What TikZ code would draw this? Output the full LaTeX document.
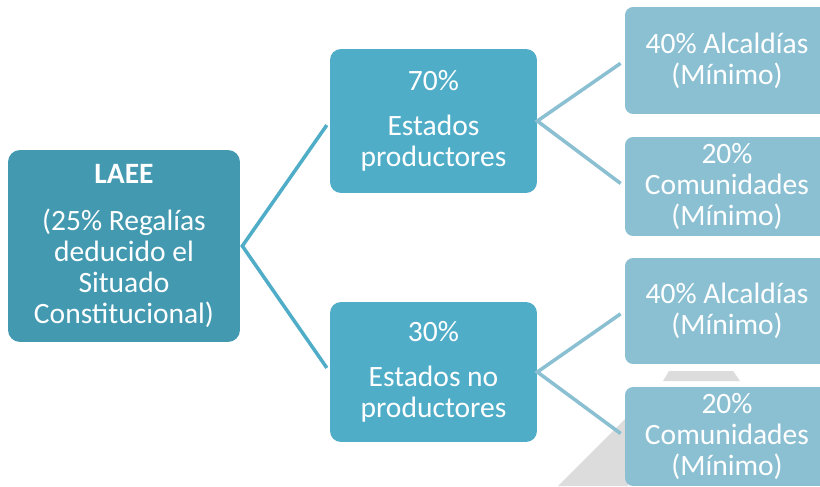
\documentclass[tikz,border=0pt]{standalone}
\usepackage{fontspec}
\setmainfont{Carlito}
\usetikzlibrary{positioning}

\definecolor{laeecol}{HTML}{4399B0}
\definecolor{estcol}{HTML}{50ADC8}
\definecolor{repcol}{HTML}{8BC0D3}
\definecolor{shadecol}{HTML}{DCDCDC}

\begin{document}
\begin{tikzpicture}[x=0.02cm,y=-0.02cm,
    boxtxt/.style={text=white,align=center,inner sep=0pt,
      font=\fontsize{16.8}{17.8}\selectfont},
    laeebox/.style={boxtxt,fill=laeecol,rounded corners=0.24cm,
      minimum width=4.64cm,minimum height=3.84cm},
    estbox/.style={boxtxt,fill=estcol,rounded corners=0.22cm,
      minimum width=4.14cm},
    repbox/.style={boxtxt,fill=repcol,rounded corners=0.16cm,
      minimum width=4.08cm},
    leftline/.style={draw=estcol,line width=2pt,shorten <=0.1cm,shorten >=0.1cm},
    rightline/.style={draw=repcol,line width=2pt,shorten <=0.1cm,shorten >=0.1cm}]
    \useasboundingbox (0,0) rectangle (820,486);
    \clip (0,0) rectangle (820,486);
    \fill[white] (0,0) rectangle (820,486);
    % grey shadows
    \fill[shadecol] (663,381) -- (669,371) -- (733,371) -- (740,381) -- cycle;
    \fill[shadecol] (558,486) -- (628,416) -- (628,486) -- cycle;
    % boxes
    \node[laeebox] (laee) at (124,246) {\textbf{LAEE}\\[9pt](25\% Regalías\\deducido el\\Situado\\Constitucional)};
    \node[estbox,minimum height=2.88cm] (prod) at (433.5,121) {70\%\\[8pt]Estados\\productores};
    \node[estbox,minimum height=2.8cm] (noprod) at (433.5,372) {30\%\\[8pt]Estados no\\productores};
    \node[repbox,minimum height=2.14cm] (alcA) at (727,60.5) {40\% Alcaldías\\(Mínimo)};
    \node[repbox,minimum height=1.98cm] (comA) at (727,186.5) {20\%\\Comunidades\\(Mínimo)};
    \node[repbox,minimum height=2.12cm] (alcB) at (727,311) {40\% Alcaldías\\(Mínimo)};
    \node[repbox,minimum height=1.98cm] (comB) at (727,436.5) {20\%\\Comunidades\\(Mínimo)};
    % connectors
    \draw[leftline] (prod.west) -- ([xshift=0.04cm]laee.east) -- (noprod.west);
    \draw[rightline] (alcA.west) -- (prod.east) -- (comA.west);
    \draw[rightline] (alcB.west) -- (noprod.east) -- (comB.west);
  \end{tikzpicture}
\end{document}
